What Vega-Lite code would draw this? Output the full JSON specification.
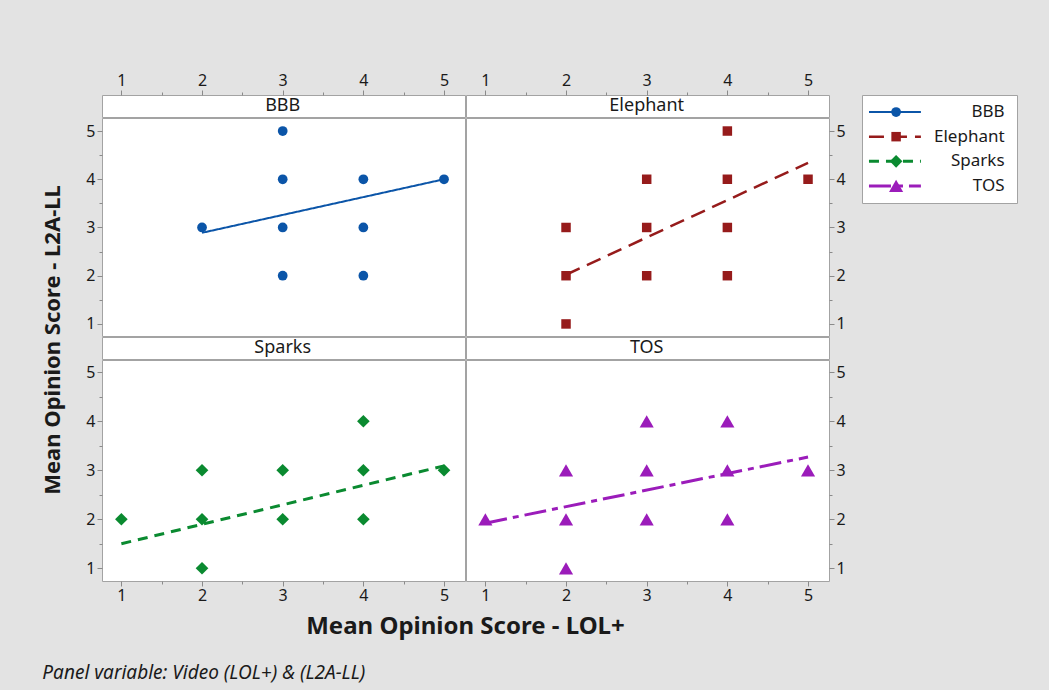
{
  "$schema": "https://vega.github.io/schema/vega-lite/v6.json",
  "background": "#e3e3e3",
  "padding": {"left": 42, "top": 71, "right": 31, "bottom": 9},
  "datasets": {
    "pts": [
      {"video": "BBB", "lol": 2, "l2a": 3},
      {"video": "BBB", "lol": 3, "l2a": 5},
      {"video": "BBB", "lol": 3, "l2a": 4},
      {"video": "BBB", "lol": 3, "l2a": 3},
      {"video": "BBB", "lol": 3, "l2a": 2},
      {"video": "BBB", "lol": 4, "l2a": 4},
      {"video": "BBB", "lol": 4, "l2a": 3},
      {"video": "BBB", "lol": 4, "l2a": 2},
      {"video": "BBB", "lol": 5, "l2a": 4},
      {"video": "Elephant", "lol": 2, "l2a": 3},
      {"video": "Elephant", "lol": 2, "l2a": 2},
      {"video": "Elephant", "lol": 2, "l2a": 1},
      {"video": "Elephant", "lol": 3, "l2a": 4},
      {"video": "Elephant", "lol": 3, "l2a": 3},
      {"video": "Elephant", "lol": 3, "l2a": 2},
      {"video": "Elephant", "lol": 4, "l2a": 5},
      {"video": "Elephant", "lol": 4, "l2a": 4},
      {"video": "Elephant", "lol": 4, "l2a": 3},
      {"video": "Elephant", "lol": 4, "l2a": 2},
      {"video": "Elephant", "lol": 5, "l2a": 4},
      {"video": "Sparks", "lol": 1, "l2a": 2},
      {"video": "Sparks", "lol": 2, "l2a": 3},
      {"video": "Sparks", "lol": 2, "l2a": 2},
      {"video": "Sparks", "lol": 2, "l2a": 1},
      {"video": "Sparks", "lol": 3, "l2a": 3},
      {"video": "Sparks", "lol": 3, "l2a": 2},
      {"video": "Sparks", "lol": 4, "l2a": 4},
      {"video": "Sparks", "lol": 4, "l2a": 3},
      {"video": "Sparks", "lol": 4, "l2a": 2},
      {"video": "Sparks", "lol": 5, "l2a": 3},
      {"video": "TOS", "lol": 1, "l2a": 2},
      {"video": "TOS", "lol": 2, "l2a": 3},
      {"video": "TOS", "lol": 2, "l2a": 2},
      {"video": "TOS", "lol": 2, "l2a": 1},
      {"video": "TOS", "lol": 3, "l2a": 4},
      {"video": "TOS", "lol": 3, "l2a": 3},
      {"video": "TOS", "lol": 3, "l2a": 2},
      {"video": "TOS", "lol": 4, "l2a": 4},
      {"video": "TOS", "lol": 4, "l2a": 3},
      {"video": "TOS", "lol": 4, "l2a": 2},
      {"video": "TOS", "lol": 5, "l2a": 3}
    ],
    "fits": [
      {"video": "BBB", "lol": 2, "l2a": 2.89},
      {"video": "BBB", "lol": 5, "l2a": 4.0},
      {"video": "Elephant", "lol": 2, "l2a": 2.02},
      {"video": "Elephant", "lol": 5, "l2a": 4.34},
      {"video": "Sparks", "lol": 1, "l2a": 1.5},
      {"video": "Sparks", "lol": 5, "l2a": 3.09},
      {"video": "TOS", "lol": 1, "l2a": 1.92},
      {"video": "TOS", "lol": 5, "l2a": 3.27}
    ],
    "keys": [
      {"video": "BBB"},
      {"video": "Elephant"},
      {"video": "Sparks"},
      {"video": "TOS"}
    ]
  },
  "config": {
    "font": "Noto Sans",
    "view": {"fill": "white", "stroke": "#a3a3a3", "strokeWidth": 1},
    "axis": {
      "domain": false,
      "grid": false,
      "title": null,
      "labelFont": "Noto Sans",
      "labelFontSize": 16,
      "labelColor": "#1a1a1a",
      "tickColor": "#8a8a8a",
      "labelPadding": 2,
      "labelOverlap": false,
      "labelFlush": false
    },
    "title": {"font": "Noto Sans", "color": "#1a1a1a"}
  },
  "hconcat": [
    {
      "title": {"text": "Mean Opinion Score - L2A-LL", "orient": "left", "anchor": "middle", "dx": 15, "fontSize": 22, "fontWeight": "bold", "offset": 20},
      "vconcat": [
        {
          "title": {"text": "Mean Opinion Score - LOL+", "orient": "bottom", "anchor": "middle", "fontSize": 24, "fontWeight": "bold", "offset": 11},
          "spacing": -2,
          "vconcat": [
            {
              "spacing": -2,
              "hconcat": [
                {
                  "spacing": -2,
                  "vconcat": [
                    {
                      "width": 363, "height": 22,
                      "data": {"name": "keys"},
                      "transform": [{"filter": "datum.video === 'BBB'"}],
                      "mark": {"type": "text", "fontSize": 18, "color": "#1a1a1a"},
                      "encoding": {
                        "x": {"datum": 3, "type": "quantitative", "scale": {"domain": [0.76, 5.26], "nice": false, "zero": false},
                          "axis": {"orient": "top", "values": [1, 1.5, 2, 2.5, 3, 3.5, 4, 4.5, 5], "labelExpr": "datum.value % 1 === 0 ? format(datum.value, 'd') : ''", "tickSize": {"condition": {"test": "datum.value % 1 !== 0", "value": 3}, "value": 5}}},
                        "text": {"field": "video"}
                      }
                    },
                    {
                      "width": 363, "height": 218,
                      "encoding": {
                        "x": {"field": "lol", "type": "quantitative", "scale": {"domain": [0.76, 5.26], "nice": false, "zero": false}, "axis": null},
                        "y": {"field": "l2a", "type": "quantitative", "scale": {"domain": [0.75, 5.27], "nice": false, "zero": false},
                          "axis": {"orient": "left", "values": [1, 1.5, 2, 2.5, 3, 3.5, 4, 4.5, 5], "labelExpr": "datum.value % 1 === 0 ? format(datum.value, 'd') : ''", "tickSize": {"condition": {"test": "datum.value % 1 !== 0", "value": 3}, "value": 5}}},
                        "color": {"field": "video", "type": "nominal", "scale": {"domain": ["BBB", "Elephant", "Sparks", "TOS"], "range": ["#0b55a8", "#961b1b", "#0a8a30", "#9b1cba"]}, "legend": null}
                      },
                      "layer": [
                        {
                          "data": {"name": "fits"},
                          "transform": [{"filter": "datum.video === 'BBB'"}],
                          "mark": {"type": "line"},
                          "encoding": {
                            "strokeDash": {"field": "video", "type": "nominal", "scale": {"domain": ["BBB", "Elephant", "Sparks", "TOS"], "range": [[1, 0], [15, 8], [10, 7], [22, 6, 6, 6]]}, "legend": null},
                            "strokeWidth": {"field": "video", "type": "nominal", "scale": {"type": "ordinal", "domain": ["BBB", "Elephant", "Sparks", "TOS"], "range": [2, 2.5, 3, 3]}, "legend": null}
                          }
                        },
                        {
                          "data": {"name": "pts"},
                          "transform": [{"filter": "datum.video === 'BBB'"}],
                          "mark": {"type": "point", "filled": true, "opacity": 1},
                          "encoding": {
                            "shape": {"field": "video", "type": "nominal", "scale": {"domain": ["BBB", "Elephant", "Sparks", "TOS"], "range": ["circle", "square", "diamond", "triangle-up"]}, "legend": null},
                            "size": {"field": "video", "type": "nominal", "scale": {"type": "ordinal", "domain": ["BBB", "Elephant", "Sparks", "TOS"], "range": [95, 90, 160, 200]}, "legend": null}
                          }
                        }
                      ]
                    }
                  ]
                },
                {
                  "spacing": -2,
                  "vconcat": [
                    {
                      "width": 363, "height": 22,
                      "data": {"name": "keys"},
                      "transform": [{"filter": "datum.video === 'Elephant'"}],
                      "mark": {"type": "text", "fontSize": 18, "color": "#1a1a1a"},
                      "encoding": {
                        "x": {"datum": 3, "type": "quantitative", "scale": {"domain": [0.76, 5.26], "nice": false, "zero": false},
                          "axis": {"orient": "top", "values": [1, 1.5, 2, 2.5, 3, 3.5, 4, 4.5, 5], "labelExpr": "datum.value % 1 === 0 ? format(datum.value, 'd') : ''", "tickSize": {"condition": {"test": "datum.value % 1 !== 0", "value": 3}, "value": 5}}},
                        "text": {"field": "video"}
                      }
                    },
                    {
                      "width": 363, "height": 218,
                      "encoding": {
                        "x": {"field": "lol", "type": "quantitative", "scale": {"domain": [0.76, 5.26], "nice": false, "zero": false}, "axis": null},
                        "y": {"field": "l2a", "type": "quantitative", "scale": {"domain": [0.75, 5.27], "nice": false, "zero": false},
                          "axis": {"orient": "right", "values": [1, 1.5, 2, 2.5, 3, 3.5, 4, 4.5, 5], "labelExpr": "datum.value % 1 === 0 ? format(datum.value, 'd') : ''", "tickSize": {"condition": {"test": "datum.value % 1 !== 0", "value": 3}, "value": 5}}},
                        "color": {"field": "video", "type": "nominal", "scale": {"domain": ["BBB", "Elephant", "Sparks", "TOS"], "range": ["#0b55a8", "#961b1b", "#0a8a30", "#9b1cba"]}, "legend": null}
                      },
                      "layer": [
                        {
                          "data": {"name": "fits"},
                          "transform": [{"filter": "datum.video === 'Elephant'"}],
                          "mark": {"type": "line"},
                          "encoding": {
                            "strokeDash": {"field": "video", "type": "nominal", "scale": {"domain": ["BBB", "Elephant", "Sparks", "TOS"], "range": [[1, 0], [15, 8], [10, 7], [22, 6, 6, 6]]}, "legend": null},
                            "strokeWidth": {"field": "video", "type": "nominal", "scale": {"type": "ordinal", "domain": ["BBB", "Elephant", "Sparks", "TOS"], "range": [2, 2.5, 3, 3]}, "legend": null}
                          }
                        },
                        {
                          "data": {"name": "pts"},
                          "transform": [{"filter": "datum.video === 'Elephant'"}],
                          "mark": {"type": "point", "filled": true, "opacity": 1},
                          "encoding": {
                            "shape": {"field": "video", "type": "nominal", "scale": {"domain": ["BBB", "Elephant", "Sparks", "TOS"], "range": ["circle", "square", "diamond", "triangle-up"]}, "legend": null},
                            "size": {"field": "video", "type": "nominal", "scale": {"type": "ordinal", "domain": ["BBB", "Elephant", "Sparks", "TOS"], "range": [95, 90, 160, 200]}, "legend": null}
                          }
                        }
                      ]
                    }
                  ]
                }
              ]
            },
            {
              "spacing": -2,
              "hconcat": [
                {
                  "spacing": -2,
                  "vconcat": [
                    {
                      "width": 363, "height": 22,
                      "data": {"name": "keys"},
                      "transform": [{"filter": "datum.video === 'Sparks'"}],
                      "mark": {"type": "text", "fontSize": 18, "color": "#1a1a1a"},
                      "encoding": {
                        "x": {"datum": 3, "type": "quantitative", "scale": {"domain": [0.76, 5.26], "nice": false, "zero": false}, "axis": null},
                        "text": {"field": "video"}
                      }
                    },
                    {
                      "width": 363, "height": 221,
                      "encoding": {
                        "x": {"field": "lol", "type": "quantitative", "scale": {"domain": [0.76, 5.26], "nice": false, "zero": false},
                          "axis": {"orient": "bottom", "labelPadding": 1, "values": [1, 1.5, 2, 2.5, 3, 3.5, 4, 4.5, 5], "labelExpr": "datum.value % 1 === 0 ? format(datum.value, 'd') : ''", "tickSize": {"condition": {"test": "datum.value % 1 !== 0", "value": 3}, "value": 5}}},
                        "y": {"field": "l2a", "type": "quantitative", "scale": {"domain": [0.74, 5.25], "nice": false, "zero": false},
                          "axis": {"orient": "left", "values": [1, 1.5, 2, 2.5, 3, 3.5, 4, 4.5, 5], "labelExpr": "datum.value % 1 === 0 ? format(datum.value, 'd') : ''", "tickSize": {"condition": {"test": "datum.value % 1 !== 0", "value": 3}, "value": 5}}},
                        "color": {"field": "video", "type": "nominal", "scale": {"domain": ["BBB", "Elephant", "Sparks", "TOS"], "range": ["#0b55a8", "#961b1b", "#0a8a30", "#9b1cba"]}, "legend": null}
                      },
                      "layer": [
                        {
                          "data": {"name": "fits"},
                          "transform": [{"filter": "datum.video === 'Sparks'"}],
                          "mark": {"type": "line"},
                          "encoding": {
                            "strokeDash": {"field": "video", "type": "nominal", "scale": {"domain": ["BBB", "Elephant", "Sparks", "TOS"], "range": [[1, 0], [15, 8], [10, 7], [22, 6, 6, 6]]}, "legend": null},
                            "strokeWidth": {"field": "video", "type": "nominal", "scale": {"type": "ordinal", "domain": ["BBB", "Elephant", "Sparks", "TOS"], "range": [2, 2.5, 3, 3]}, "legend": null}
                          }
                        },
                        {
                          "data": {"name": "pts"},
                          "transform": [{"filter": "datum.video === 'Sparks'"}],
                          "mark": {"type": "point", "filled": true, "opacity": 1},
                          "encoding": {
                            "shape": {"field": "video", "type": "nominal", "scale": {"domain": ["BBB", "Elephant", "Sparks", "TOS"], "range": ["circle", "square", "diamond", "triangle-up"]}, "legend": null},
                            "size": {"field": "video", "type": "nominal", "scale": {"type": "ordinal", "domain": ["BBB", "Elephant", "Sparks", "TOS"], "range": [95, 90, 160, 200]}, "legend": null}
                          }
                        }
                      ]
                    }
                  ]
                },
                {
                  "spacing": -2,
                  "vconcat": [
                    {
                      "width": 363, "height": 22,
                      "data": {"name": "keys"},
                      "transform": [{"filter": "datum.video === 'TOS'"}],
                      "mark": {"type": "text", "fontSize": 18, "color": "#1a1a1a"},
                      "encoding": {
                        "x": {"datum": 3, "type": "quantitative", "scale": {"domain": [0.76, 5.26], "nice": false, "zero": false}, "axis": null},
                        "text": {"field": "video"}
                      }
                    },
                    {
                      "width": 363, "height": 221,
                      "encoding": {
                        "x": {"field": "lol", "type": "quantitative", "scale": {"domain": [0.76, 5.26], "nice": false, "zero": false},
                          "axis": {"orient": "bottom", "labelPadding": 1, "values": [1, 1.5, 2, 2.5, 3, 3.5, 4, 4.5, 5], "labelExpr": "datum.value % 1 === 0 ? format(datum.value, 'd') : ''", "tickSize": {"condition": {"test": "datum.value % 1 !== 0", "value": 3}, "value": 5}}},
                        "y": {"field": "l2a", "type": "quantitative", "scale": {"domain": [0.74, 5.25], "nice": false, "zero": false},
                          "axis": {"orient": "right", "values": [1, 1.5, 2, 2.5, 3, 3.5, 4, 4.5, 5], "labelExpr": "datum.value % 1 === 0 ? format(datum.value, 'd') : ''", "tickSize": {"condition": {"test": "datum.value % 1 !== 0", "value": 3}, "value": 5}}},
                        "color": {"field": "video", "type": "nominal", "scale": {"domain": ["BBB", "Elephant", "Sparks", "TOS"], "range": ["#0b55a8", "#961b1b", "#0a8a30", "#9b1cba"]}, "legend": null}
                      },
                      "layer": [
                        {
                          "data": {"name": "fits"},
                          "transform": [{"filter": "datum.video === 'TOS'"}],
                          "mark": {"type": "line"},
                          "encoding": {
                            "strokeDash": {"field": "video", "type": "nominal", "scale": {"domain": ["BBB", "Elephant", "Sparks", "TOS"], "range": [[1, 0], [15, 8], [10, 7], [22, 6, 6, 6]]}, "legend": null},
                            "strokeWidth": {"field": "video", "type": "nominal", "scale": {"type": "ordinal", "domain": ["BBB", "Elephant", "Sparks", "TOS"], "range": [2, 2.5, 3, 3]}, "legend": null}
                          }
                        },
                        {
                          "data": {"name": "pts"},
                          "transform": [{"filter": "datum.video === 'TOS'"}],
                          "mark": {"type": "point", "filled": true, "opacity": 1},
                          "encoding": {
                            "shape": {"field": "video", "type": "nominal", "scale": {"domain": ["BBB", "Elephant", "Sparks", "TOS"], "range": ["circle", "square", "diamond", "triangle-up"]}, "legend": null},
                            "size": {"field": "video", "type": "nominal", "scale": {"type": "ordinal", "domain": ["BBB", "Elephant", "Sparks", "TOS"], "range": [95, 90, 160, 200]}, "legend": null}
                          }
                        }
                      ]
                    }
                  ]
                }
              ]
            }
          ]
        }
      ]
    },
    {
      "width": 155, "height": 108,
      "data": {"name": "keys"},
      "encoding": {
        "y": {"field": "video", "type": "nominal", "scale": {"type": "point", "domain": ["BBB", "Elephant", "Sparks", "TOS"], "padding": 0.69}, "axis": null},
        "color": {"field": "video", "type": "nominal", "scale": {"domain": ["BBB", "Elephant", "Sparks", "TOS"], "range": ["#0b55a8", "#961b1b", "#0a8a30", "#9b1cba"]}, "legend": null}
      },
      "layer": [
        {
          "mark": {"type": "rule"},
          "encoding": {
            "x": {"datum": 0.45, "type": "quantitative", "scale": {"domain": [0, 10], "nice": false, "zero": false}, "axis": null},
            "x2": {"datum": 3.8},
            "strokeDash": {"field": "video", "type": "nominal", "scale": {"domain": ["BBB", "Elephant", "Sparks", "TOS"], "range": [[1, 0], [15, 8], [10, 7], [22, 6, 6, 6]]}, "legend": null},
            "strokeWidth": {"field": "video", "type": "nominal", "scale": {"type": "ordinal", "domain": ["BBB", "Elephant", "Sparks", "TOS"], "range": [2, 2.5, 3, 3]}, "legend": null}
          }
        },
        {
          "mark": {"type": "point", "filled": true, "opacity": 1},
          "encoding": {
            "x": {"datum": 2.2, "type": "quantitative", "scale": {"domain": [0, 10], "nice": false, "zero": false}, "axis": null},
            "shape": {"field": "video", "type": "nominal", "scale": {"domain": ["BBB", "Elephant", "Sparks", "TOS"], "range": ["circle", "square", "diamond", "triangle-up"]}, "legend": null},
            "size": {"field": "video", "type": "nominal", "scale": {"type": "ordinal", "domain": ["BBB", "Elephant", "Sparks", "TOS"], "range": [100, 120, 160, 200]}, "legend": null}
          }
        },
        {
          "mark": {"type": "text", "align": "right", "fontSize": 17},
          "encoding": {
            "x": {"datum": 9.2, "type": "quantitative", "scale": {"domain": [0, 10], "nice": false, "zero": false}, "axis": null},
            "text": {"field": "video"},
            "color": {"value": "#1a1a1a"}
          }
        }
      ]
    }
  ],
  "spacing": 15,
  "title": {"text": "Panel variable: Video (LOL+) & (L2A-LL)", "orient": "bottom", "anchor": "start", "fontSize": 19, "fontStyle": "italic", "fontWeight": "normal", "offset": 25}
}
